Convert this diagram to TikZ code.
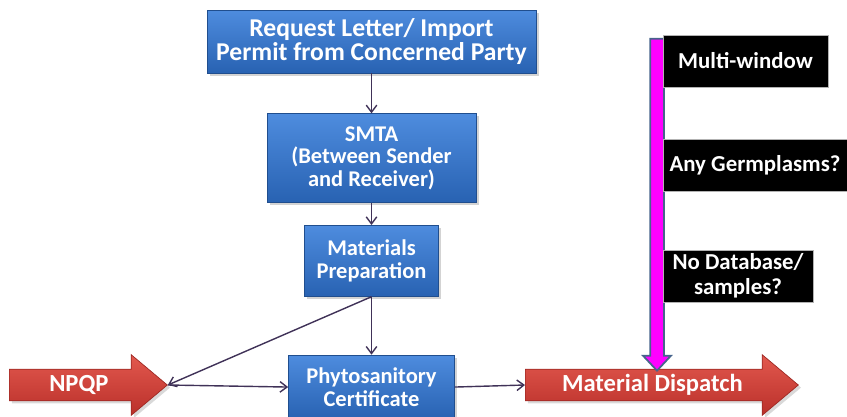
\documentclass[tikz,border=0pt]{standalone}
\usepackage{fontspec}
\setmainfont{Carlito}
\usepackage{xcolor}
\usetikzlibrary{positioning, arrows.meta, shapes.arrows, shadows}
\definecolor{boxtop}{RGB}{78, 140, 222}
\definecolor{boxbot}{RGB}{40, 98, 178}
\definecolor{redtop}{RGB}{226, 88, 78}
\definecolor{redbot}{RGB}{186, 48, 42}
\definecolor{flow}{RGB}{64, 50, 88}
\definecolor{rim}{RGB}{70, 100, 140}
\definecolor{pinkbar}{RGB}{255, 0, 255}

\begin{document}
\begin{tikzpicture}[
    x=0.02cm, y=-0.02cm,
    stepbox/.style={
        draw=boxbot!80!black,
        top color=boxtop,
        bottom color=boxbot,
        text=white,
        font=\bfseries\fontsize{12.8}{13}\selectfont,
        align=center,
        inner sep=2pt,
        drop shadow={shadow xshift=1.5pt, shadow yshift=-1.5pt, opacity=0.35}
    },
    redarrow/.style={
        single arrow,
        draw=redbot!85!black,
        top color=redtop,
        bottom color=redbot,
        text=white,
        font=\bfseries\fontsize{14}{15}\selectfont,
        text height=9pt, text depth=2pt,
        inner xsep=2pt, inner ysep=0.116cm,
        single arrow head extend=0.29cm,
        single arrow tip angle=80,
        anchor=tail,
        drop shadow={shadow xshift=1.5pt, shadow yshift=-1.5pt, opacity=0.3}
    },
    notebox/.style={
        fill=black,
        draw=gray!60,
        text=white,
        font=\bfseries\fontsize{13}{14.5}\selectfont,
        align=center,
        inner sep=1pt,
        minimum height=1.04cm
    },
    link/.style={-{Straight Barb[length=4pt, width=6pt]}, flow, thick}
]
\useasboundingbox (0,0) rectangle (847,416);

% === Main flow ===
\node[stepbox, minimum width=6.58cm, minimum height=1.26cm,
      font=\bfseries\fontsize{14.6}{13.6}\selectfont] (req) at (371.5,41.5)
    {Request Letter/ Import\\Permit from Concerned Party};
\node[stepbox, minimum width=4.18cm, minimum height=1.78cm, below=0.8cm of req] (smta)
    {SMTA\\(Between Sender\\and Receiver)};
\node[stepbox, minimum width=2.68cm, minimum height=1.42cm, below=0.44cm of smta] (prep)
    {Materials\\Preparation};
\node[stepbox, minimum width=3.32cm, minimum height=1.28cm, below=1.16cm of prep] (phyto)
    {Phytosanitory\\Certificate};

% === Red arrows ===
\node[redarrow, minimum height=3.16cm] (npqp) at (9,385) {NPQP};
\node[redarrow, minimum height=5.46cm] (dispatch) at (525,385) {Material Dispatch};

% === Multi-window bar ===
\node[single arrow, rotate=-90, fill=pinkbar, draw=rim, line width=1pt,
      minimum height=6.64cm, minimum width=0.52cm, inner sep=0.12cm,
      single arrow head extend=0.14cm, single arrow tip angle=86] (bar) at (657,201) {};

\node[notebox, minimum width=3.3cm] (multi) at (745.5,61) {Multi-window};
\node[notebox, minimum width=3.68cm] (germ) at (755,165.5) {Any Germplasms?};
\node[notebox, minimum width=3.0cm] (nodb) at (738,276) {No Database/\\samples?};

% === Arrows ===
\draw[link] (req.south) -- (smta.north);
\draw[link] (smta.south) -- (prep.north);
\draw[link] (prep.south) -- (phyto.north);
\draw[link] (prep.south) -- (npqp.tip);
\draw[link] (npqp.tip) -- (phyto.west);
\draw[link] (phyto.east) -- (dispatch.tail);

\end{tikzpicture}
\end{document}
